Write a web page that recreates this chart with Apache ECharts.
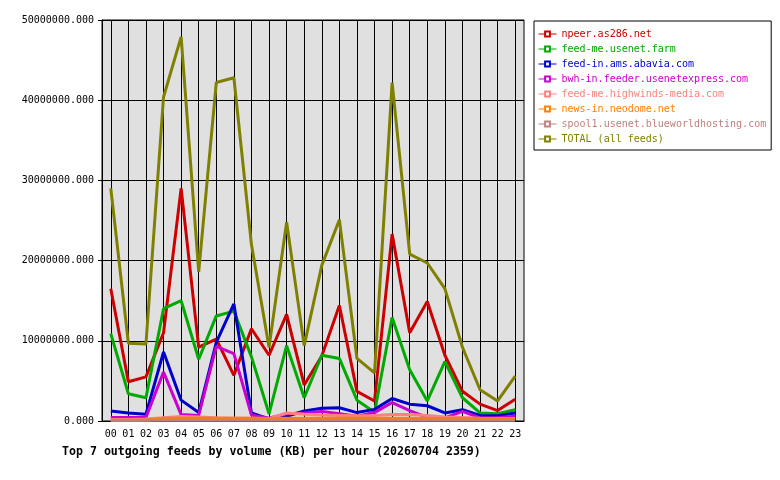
<!DOCTYPE html>
<html>
<head>
<meta charset="utf-8">
<script src="https://cdn.jsdelivr.net/npm/echarts@6/dist/echarts.min.js"></script>
<style>
  html, body { margin: 0; padding: 0; background: #fff; }
  #chart { width: 780px; height: 480px; }
</style>
</head>
<body>
<div id="chart"></div>
<script>
// hours of the day
const hours = ["00","01","02","03","04","05","06","07","08","09","10","11",
               "12","13","14","15","16","17","18","19","20","21","22","23"];

const feedNames = [
  "npeer.as286.net",
  "feed-me.usenet.farm",
  "feed-in.ams.abavia.com",
  "bwh-in.feeder.usenetexpress.com",
  "feed-me.highwinds-media.com",
  "news-in.neodome.net",
  "spool1.usenet.blueworldhosting.com",
  "TOTAL (all feeds)"
];
const feedColors = ["#cc0000", "#00aa00", "#0000cc", "#cc00cc", "#ff8080", "#ff8000", "#c08080", "#808000"];

// KB per hour
const npeer = [16500000, 4900000, 5500000, 11000000, 29000000, 9200000, 10200000, 5700000,
  11500000, 8200000, 13300000, 4500000, 8100000, 14400000, 3700000, 2500000,
  23300000, 11000000, 14900000, 8200000, 3700000, 2100000, 1300000, 2700000];
const usenetFarm = [10900000, 3400000, 2900000, 14000000, 15000000, 7700000, 13100000, 13700000,
  8000000, 900000, 9400000, 2900000, 8200000, 7800000, 2600000, 1100000,
  12900000, 6400000, 2500000, 7400000, 2900000, 1000000, 900000, 1400000];
const abavia = [1250000, 1000000, 850000, 8600000, 2600000, 1050000, 9800000, 14600000,
  1000000, 250000, 600000, 1250000, 1600000, 1650000, 1050000, 1450000,
  2800000, 2100000, 1900000, 1000000, 1400000, 700000, 650000, 1000000];
const usenetExpress = [450000, 450000, 450000, 6100000, 800000, 700000, 9300000, 8400000,
  750000, 350000, 900000, 1000000, 1200000, 900000, 600000, 1050000,
  2300000, 1300000, 450000, 400000, 1200000, 400000, 400000, 600000];
const highwinds = [200000, 200000, 250000, 400000, 550000, 500000, 400000, 350000,
  350000, 300000, 1000000, 850000, 750000, 700000, 650000, 700000,
  800000, 800000, 700000, 500000, 450000, 350000, 300000, 300000];
const neodome = [100000, 100000, 100000, 300000, 350000, 350000, 350000, 350000,
  350000, 300000, 350000, 350000, 350000, 350000, 350000, 350000,
  350000, 350000, 300000, 300000, 300000, 300000, 300000, 300000];
const blueworld = [80000, 80000, 80000, 80000, 80000, 80000, 80000, 80000,
  80000, 80000, 80000, 80000, 80000, 80000, 80000, 80000,
  80000, 80000, 80000, 80000, 80000, 80000, 80000, 80000];
const total = [29000000, 9700000, 9600000, 40400000, 47900000, 18600000, 42200000, 42800000,
  22000000, 9200000, 24800000, 9400000, 19400000, 25100000, 7800000, 6000000,
  42200000, 20800000, 19700000, 16500000, 9200000, 3900000, 2500000, 5600000];

const feedData = [npeer, usenetFarm, abavia, usenetExpress, highwinds, neodome, blueworld, total];

const yTicks = [0, 10000000, 20000000, 30000000, 40000000, 50000000];

const mono = "DejaVu Sans Mono";

const series = feedNames.map((name, i) => ({
  name: name,
  type: "line",
  data: feedData[i],
  symbol: "emptyRect",
  showSymbol: false,
  color: feedColors[i],
  lineStyle: { width: 3, color: feedColors[i] }
}));

const chart = echarts.init(document.getElementById("chart"), null, { renderer: "canvas" });
chart.setOption({
  animation: false,
  backgroundColor: "#fff",
  title: {
    text: "Top 7 outgoing feeds by volume (KB) per hour (20260704 2359)",
    left: 62,
    top: 446,
    padding: 0,
    textStyle: { fontFamily: mono, fontSize: 11.6, fontWeight: "bold", color: "#000" }
  },
  legend: {
    orient: "vertical",
    left: 534,
    top: 21,
    padding: [7, 5, 5, 4],
    itemGap: 3,
    itemWidth: 18,
    itemHeight: 6,
    borderColor: "#000",
    borderWidth: 1,
    backgroundColor: "#fff",
    lineStyle: { width: 1 },
    itemStyle: { borderWidth: 1 },
    data: feedNames,
    formatter: name => "{c" + feedNames.indexOf(name) + "|" + name + "}",
    textStyle: {
      fontFamily: mono,
      fontSize: 10,
      lineHeight: 12,
      rich: Object.fromEntries(feedColors.map((c, i) => ["c" + i, { color: c, fontFamily: mono, fontSize: 10, lineHeight: 12 }]))
    }
  },
  grid: {
    left: 102,
    top: 20,
    width: 422,
    height: 401,
    show: true,
    backgroundColor: "#e0e0e0",
    borderColor: "#000",
    borderWidth: 1
  },
  xAxis: {
    type: "category",
    data: hours,
    boundaryGap: true,
    axisLine: { lineStyle: { color: "#000", width: 1 } },
    axisTick: { alignWithLabel: true, length: 4, lineStyle: { color: "#000" } },
    splitLine: { show: true, alignWithLabel: true, lineStyle: { color: "#000", width: 1 } },
    axisLabel: { fontFamily: mono, fontSize: 10, color: "#000", margin: 8, interval: 0 }
  },
  yAxis: {
    type: "value",
    min: yTicks[0],
    max: yTicks[yTicks.length - 1],
    interval: yTicks[1] - yTicks[0],
    axisLine: { show: true, lineStyle: { color: "#000", width: 1 } },
    axisTick: { show: true, length: 4, lineStyle: { color: "#000" } },
    splitLine: { show: true, lineStyle: { color: "#000", width: 1 } },
    axisLabel: {
      fontFamily: mono,
      fontSize: 10,
      color: "#000",
      margin: 8,
      formatter: v => v.toFixed(3)
    }
  },
  series: series
});
</script>
</body>
</html>
